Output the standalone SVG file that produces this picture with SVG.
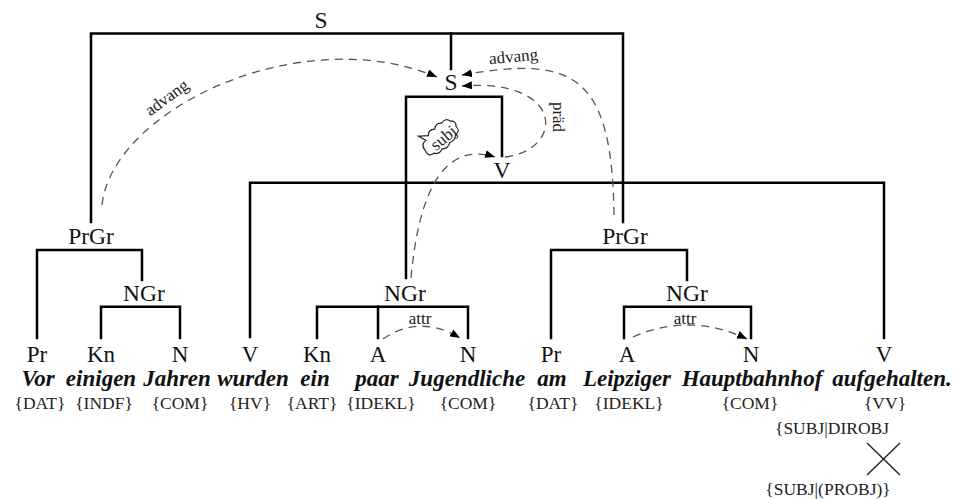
<svg xmlns="http://www.w3.org/2000/svg" width="954" height="499" viewBox="0 0 954 499">
<style>
.t{stroke:#000;stroke-width:2.5;fill:none;stroke-linecap:square}
.d{stroke:#555;stroke-width:1.3;fill:none;stroke-dasharray:8 6}
text{font-family:'Liberation Serif','Times New Roman',serif}
.lab{font-size:23.5px;fill:#111;text-anchor:middle}
.leaf{font-size:23px;fill:#111;text-anchor:middle}
.w{font-size:23px;font-weight:bold;font-style:italic;fill:#111;text-anchor:middle}
.tag{font-size:17.5px;fill:#222;text-anchor:middle}
.rel{font-size:17px;fill:#222;text-anchor:middle}
</style>
<defs>
<marker id="ah" markerUnits="userSpaceOnUse" markerWidth="10" markerHeight="8" refX="10" refY="4" orient="auto">
<path d="M0,0 L10,4 L0,8 z" fill="#000"/>
</marker>
</defs>
<rect width="954" height="499" fill="#fff"/>
<g id="connectors">
<path class="t" d="M91,222 V33.5 H623 V222"/>
<path class="t" d="M451,33.5 V69"/>
<path class="t" d="M406,278 V96.7 H502 V156"/>
<path class="t" d="M250,337 V182.7 H884 V338"/>
<path class="t" d="M37,338 V250 H142 V280"/>
<path class="t" d="M101,338 V306.7 H180 V338"/>
<path class="t" d="M317,338 V306.7 H468 V338"/>
<path class="t" d="M378,306.7 V338"/>
<path class="t" d="M551,338 V250 H687 V280"/>
<path class="t" d="M624,338 V306.7 H751 V338"/>
<path class="d" d="M102,205 C 112,110 300,20 437,77" marker-end="url(#ah)"/>
<path class="d" d="M614,215 C 612,75 575,55 462,75" marker-end="url(#ah)"/>
<path class="d" d="M505,157 C 565,150 565,78 462,86" marker-end="url(#ah)"/>
<path class="d" d="M411,278 C 418,200 440,140 495,157" marker-end="url(#ah)"/>
<path class="d" d="M383,339 Q 420,314 460,338" marker-end="url(#ah)"/>
<path class="d" d="M633,337 Q 690,312 747,339" marker-end="url(#ah)"/>
<text class="rel" transform="translate(170,102) rotate(-36)">advang</text>
<text class="rel" transform="translate(514,62) rotate(-5)">advang</text>
<text class="rel" transform="translate(553,117) rotate(90)">präd</text>
<g id="subj-label" transform="translate(443,139) rotate(-40)">
<path d="M-21,-3 q0,-7 7,-7 l-3,-8 l8,6 q4,-5 9,-1 q5,-4 9,0 q7,-2 8,4 q5,3 1,8 q1,6 -6,6 q-3,4 -9,2 q-5,4 -10,0 q-6,3 -9,-2 q-7,0 -5,-8 z" fill="#fff" stroke="#222" stroke-width="1.2"/>
<text class="rel" x="1" y="5" font-size="16">subj</text>
</g>
<text class="rel" x="420" y="324" font-size="15">attr</text>
<text class="rel" x="685" y="324" font-size="15">attr</text>
<path d="M867,443 L900,475 M900,443 L867,475" stroke="#222" stroke-width="1.4" fill="none"/>
</g>
<g id="n-S"><text class="lab" x="321" y="28">S</text></g>
<g id="n-S2"><text class="lab" x="451" y="90">S</text></g>
<g id="n-V2"><text class="lab" x="502" y="178">V</text></g>
<g id="n-PrGr1"><text class="lab" x="91" y="244">PrGr</text></g>
<g id="n-NGr1"><text class="lab" x="144" y="301">NGr</text></g>
<g id="n-NGr2"><text class="lab" x="405" y="301">NGr</text></g>
<g id="n-PrGr2"><text class="lab" x="625" y="244">PrGr</text></g>
<g id="n-NGr3"><text class="lab" x="687" y="301">NGr</text></g>
<g id="w-Vor"><text class="leaf" x="37" y="362">Pr</text><text class="w" x="38" y="386">Vor</text><text class="tag" x="40" y="409">{DAT}</text></g>
<g id="w-einigen"><text class="leaf" x="101" y="362">Kn</text><text class="w" x="101" y="386">einigen</text><text class="tag" x="104" y="409">{INDF}</text></g>
<g id="w-Jahren"><text class="leaf" x="180" y="362">N</text><text class="w" x="177" y="386">Jahren</text><text class="tag" x="180" y="409">{COM}</text></g>
<g id="w-wurden"><text class="leaf" x="250" y="362">V</text><text class="w" x="253" y="386">wurden</text><text class="tag" x="250" y="409">{HV}</text></g>
<g id="w-ein"><text class="leaf" x="317" y="362">Kn</text><text class="w" x="315" y="386">ein</text><text class="tag" x="312" y="409">{ART}</text></g>
<g id="w-paar"><text class="leaf" x="378" y="362">A</text><text class="w" x="377" y="386">paar</text><text class="tag" x="381" y="409">{IDEKL}</text></g>
<g id="w-Jugendliche"><text class="leaf" x="468" y="362">N</text><text class="w" x="467" y="386">Jugendliche</text><text class="tag" x="468" y="409">{COM}</text></g>
<g id="w-am"><text class="leaf" x="551" y="362">Pr</text><text class="w" x="552" y="386">am</text><text class="tag" x="553" y="409">{DAT}</text></g>
<g id="w-Leipziger"><text class="leaf" x="627" y="362">A</text><text class="w" x="627" y="386">Leipziger</text><text class="tag" x="629" y="409">{IDEKL}</text></g>
<g id="w-Hauptbahnhof"><text class="leaf" x="751" y="362">N</text><text class="w" x="752" y="386">Hauptbahnhof</text><text class="tag" x="750" y="409">{COM}</text></g>
<g id="w-aufgehalten"><text class="leaf" x="884" y="362">V</text><text class="w" x="892" y="386">aufgehalten.</text><text class="tag" x="885" y="409">{VV}</text>
<text class="tag" x="832" y="434" text-anchor="start">{SUBJ|DIROBJ</text>
<text class="tag" x="828" y="495" text-anchor="start">{SUBJ|(PROBJ)}</text></g>
</svg>
